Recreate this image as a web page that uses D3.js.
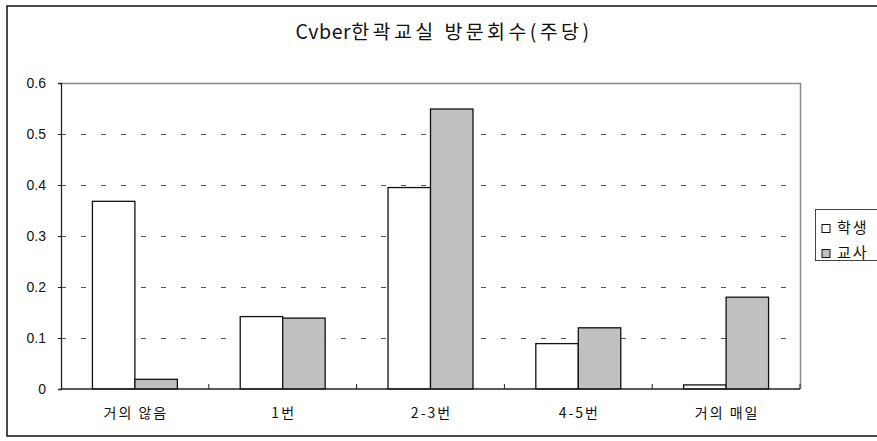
<!DOCTYPE html>
<html>
<head>
<meta charset="utf-8">
<script src="https://cdn.jsdelivr.net/npm/d3@7/dist/d3.min.js"></script>
<style>
  html, body { margin: 0; padding: 0; background: #fff; }
  svg { display: block; font-family: "Noto Sans CJK KR", "Noto Sans", sans-serif; }
</style>
</head>
<body>
<svg id="chart" width="877" height="441"></svg>
<script>
// Weekly visit frequency of the Cyber classroom, by respondent group
const categories = ["거의 않음", "1번", "2-3번", "4-5번", "거의 매일"];
const seriesNames = ["학생", "교사"];
const students = [0.368, 0.142, 0.395, 0.089, 0.008];
const teachers = [0.019, 0.139, 0.549, 0.120, 0.180];
const yTicks = [0, 0.1, 0.2, 0.3, 0.4, 0.5, 0.6];
const fills = ["#ffffff", "#c0c0c0"];
const titleParts = [["Cvber", 0.6], ["한곽교실 방문회수(주당)", 3.4]];

const svg = d3.select("#chart");
const plot = { left: 61, right: 800, top: 83, bottom: 389 };

// outer frame
svg.append("rect")
  .attr("x", 7).attr("y", 6).attr("width", 880).attr("height", 430)
  .attr("fill", "none").attr("stroke", "#111").attr("stroke-width", 1.5);

// title: Latin part tight, Hangul part spaced out
svg.append("text")
  .attr("x", 444).attr("y", 39)
  .attr("text-anchor", "middle")
  .attr("font-size", 19.5).attr("fill", "#111")
  .selectAll("tspan").data(titleParts).join("tspan")
  .attr("letter-spacing", d => d[1])
  .text(d => d[0]);

const x = d3.scaleBand().domain(categories).range([plot.left, plot.right]).paddingInner(0).paddingOuter(0);
const inner = d3.scaleBand().domain(seriesNames).range([0, x.bandwidth()]).paddingInner(0).paddingOuter(0.74);
const y = d3.scaleLinear().domain([0, 0.6]).range([plot.bottom, plot.top]);

// dashed gridlines
svg.append("g").selectAll("line")
  .data(yTicks.filter(d => d > 0 && d < 0.6))
  .join("line")
  .attr("x1", plot.left).attr("x2", plot.right)
  .attr("y1", d => Math.round(y(d)) + 0.5).attr("y2", d => Math.round(y(d)) + 0.5)
  .attr("stroke", "#555").attr("stroke-width", 1)
  .attr("stroke-dasharray", "5,15");

// plot area top and right edges
svg.append("path")
  .attr("d", `M${plot.left},${plot.top + 0.5}H${plot.right + 0.5}V${plot.bottom}`)
  .attr("fill", "none").attr("stroke", "#888").attr("stroke-width", 1.5);

// bars
const rows = categories.map((c, i) => ({ cat: c, values: [students[i], teachers[i]] }));
const groups = svg.append("g").selectAll("g")
  .data(rows).join("g")
  .attr("transform", d => `translate(${x(d.cat)},0)`);
groups.selectAll("rect")
  .data(d => d.values.map((v, j) => ({ key: seriesNames[j], v, j })))
  .join("rect")
  .attr("x", d => inner(d.key))
  .attr("width", inner.bandwidth())
  .attr("y", d => y(d.v))
  .attr("height", d => y(0) - y(d.v))
  .attr("fill", d => fills[d.j])
  .attr("stroke", "#111").attr("stroke-width", 1.3);

// y axis
const yAxis = svg.append("g")
  .attr("transform", `translate(${plot.left},0)`)
  .call(d3.axisLeft(y).tickValues(yTicks).tickSize(3).tickPadding(12)
    .tickFormat(d => d === 0 ? "0" : d3.format(".1f")(d)));
yAxis.select(".domain").attr("stroke", "#222").attr("stroke-width", 1.3);
yAxis.selectAll(".tick line").attr("stroke", "#222");
yAxis.selectAll("text").attr("font-size", 14).attr("fill", "#111")
  .attr("font-family", "Liberation Sans, Arial, sans-serif");

// x axis with inward category separators
const xAxis = svg.append("g")
  .attr("transform", `translate(0,${plot.bottom})`);
xAxis.append("line")
  .attr("x1", plot.left).attr("x2", plot.right)
  .attr("stroke", "#222").attr("stroke-width", 1.5);
xAxis.selectAll("line.sep")
  .data(d3.range(1, categories.length + 1))
  .join("line").attr("class", "sep")
  .attr("x1", i => plot.left + i * x.bandwidth()).attr("x2", i => plot.left + i * x.bandwidth())
  .attr("y1", 0).attr("y2", -5)
  .attr("stroke", "#222");
xAxis.selectAll("text")
  .data(categories).join("text")
  .attr("x", d => x(d) + x.bandwidth() / 2 + 1)
  .attr("y", 29)
  .attr("text-anchor", "middle")
  .attr("font-size", 14).attr("letter-spacing", 2).attr("fill", "#111")
  .text(d => d);

// legend
const legend = svg.append("g").attr("transform", "translate(815,209)");
legend.append("rect")
  .attr("x", 0.5).attr("y", 0.5).attr("width", 62).attr("height", 51)
  .attr("fill", "#fff").attr("stroke", "#444").attr("stroke-width", 1);
seriesNames.forEach((name, i) => {
  legend.append("rect")
    .attr("x", 7).attr("y", 15.5 + i * 25).attr("width", 8).attr("height", 8)
    .attr("fill", fills[i]).attr("stroke", "#111");
  legend.append("text")
    .attr("x", 22).attr("y", 24 + i * 25)
    .attr("font-size", 15).attr("letter-spacing", 2).attr("fill", "#111")
    .text(name);
});
</script>
</body>
</html>
